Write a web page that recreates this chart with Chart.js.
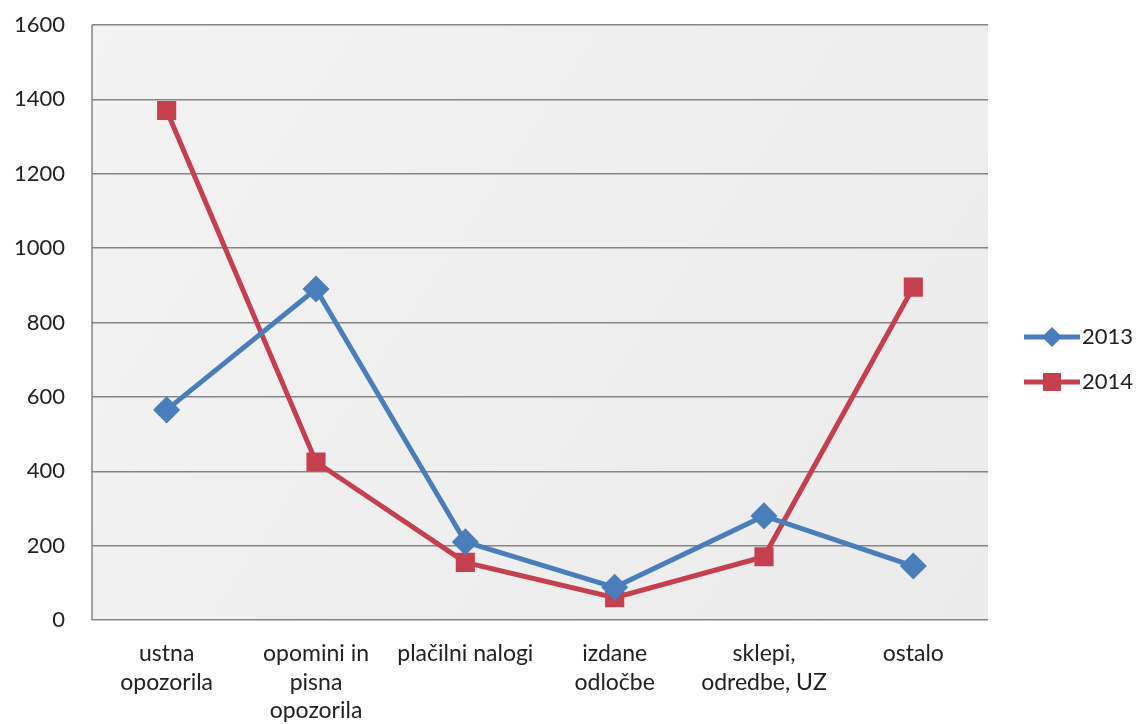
<!DOCTYPE html>
<html>
<head>
<meta charset="utf-8">
<script src="https://cdn.jsdelivr.net/npm/chart.js@4"></script>
<style>
  html, body { margin: 0; padding: 0; background: #fff; }
  #wrap { width: 1136px; height: 724px; }
</style>
</head>
<body>
<div id="wrap"><canvas id="myChart" width="1136" height="724"></canvas></div>
<script>
var categories = [
  ["ustna", "opozorila"],
  ["opomini in", "pisna", "opozorila"],
  ["plačilni nalogi"],
  ["izdane", "odločbe"],
  ["sklepi,", "odredbe, UZ"],
  ["ostalo"]
];
var seriesNames = ["2013", "2014"];
var values2013 = [565, 890, 210, 88, 280, 145];
var values2014 = [1370, 425, 155, 60, 170, 895];
var yTicks = [0, 200, 400, 600, 800, 1000, 1200, 1400, 1600];

var lineColors = ["#4a7ebb", "#c5404f"];
var markerStyles = ["rectRot", "rect"];

// plot area background + left edge
var plotBg = {
  id: "plotBg",
  beforeDraw: function(chart) {
    var a = chart.chartArea, ctx = chart.ctx;
    ctx.save();
    var g = ctx.createLinearGradient(a.left, a.top, a.right, a.bottom);
    g.addColorStop(0, "#f3f3f3");
    g.addColorStop(1, "#ebebeb");
    ctx.fillStyle = g;
    ctx.fillRect(a.left, a.top, a.right - a.left, a.bottom - a.top);
    ctx.restore();
  },
  afterDatasetsDraw: function(chart) {
    var a = chart.chartArea, ctx = chart.ctx;
    ctx.save();
    ctx.strokeStyle = "#858585";
    ctx.lineWidth = 1.5;
    ctx.beginPath();
    ctx.moveTo(a.left, a.top);
    ctx.lineTo(a.left, a.bottom);
    ctx.stroke();
    ctx.restore();
  }
};

// excel style legend: line with marker, text on the right
var sideLegend = {
  id: "sideLegend",
  afterDraw: function(chart) {
    var ctx = chart.ctx;
    ctx.save();
    ctx.font = "22px Lato";
    ctx.textBaseline = "middle";
    chart.data.datasets.forEach(function(ds, i) {
      var y = 337 + i * 45;
      var x0 = 1024, x1 = 1080;
      ctx.strokeStyle = ds.borderColor;
      ctx.lineWidth = 5;
      ctx.beginPath();
      ctx.moveTo(x0, y);
      ctx.lineTo(x1, y);
      ctx.stroke();
      ctx.fillStyle = ds.borderColor;
      var cx = (x0 + x1) / 2;
      if (ds.pointStyle === "rect") {
        ctx.fillRect(cx - 9, y - 9, 18, 18);
      } else {
        ctx.beginPath();
        ctx.moveTo(cx, y - 10);
        ctx.lineTo(cx + 10, y);
        ctx.lineTo(cx, y + 10);
        ctx.lineTo(cx - 10, y);
        ctx.closePath();
        ctx.fill();
      }
      ctx.fillStyle = "#222";
      ctx.fillText(ds.label, x1 + 2, y);
    });
    ctx.restore();
  }
};

new Chart("myChart", {
  type: "line",
  data: {
    labels: categories,
    datasets: [{
      label: seriesNames[0],
      data: values2013,
      borderColor: lineColors[0],
      backgroundColor: lineColors[0],
      borderWidth: 5,
      pointStyle: markerStyles[0],
      pointRadius: 10,
      pointHoverRadius: 10,
      tension: 0
    }, {
      label: seriesNames[1],
      data: values2014,
      borderColor: lineColors[1],
      backgroundColor: lineColors[1],
      borderWidth: 5,
      pointStyle: markerStyles[1],
      pointRadius: 10,
      pointHoverRadius: 10,
      tension: 0
    }]
  },
  options: {
    responsive: false,
    animation: false,
    layout: { autoPadding: false, padding: { left: 8, right: 148, top: 25, bottom: 0 } },
    plugins: {
      legend: { display: false },
      tooltip: { enabled: false }
    },
    scales: {
      x: {
        offset: true,
        grid: { display: false },
        border: { display: false },
        afterFit: function(s) { s.height = 104; },
        ticks: {
          color: "#222",
          font: { family: "Lato", size: 23, lineHeight: 1.25 },
          maxRotation: 0,
          autoSkip: false,
          padding: 11
        }
      },
      y: {
        min: 0,
        max: 1600,
        afterBuildTicks: function(axis) {
          axis.ticks = yTicks.map(function(v) { return { value: v }; });
        },
        afterFit: function(s) { s.width = 84; s.paddingTop = 0; s.paddingBottom = 0; },
        grid: { color: "#858585", lineWidth: 1.5, drawTicks: false },
        border: { display: false },
        ticks: {
          color: "#222",
          font: { family: "Lato", size: 22 },
          padding: 27,
          callback: function(v) { return String(v); }
        }
      }
    }
  },
  plugins: [plotBg, sideLegend]
});
</script>
</body>
</html>
